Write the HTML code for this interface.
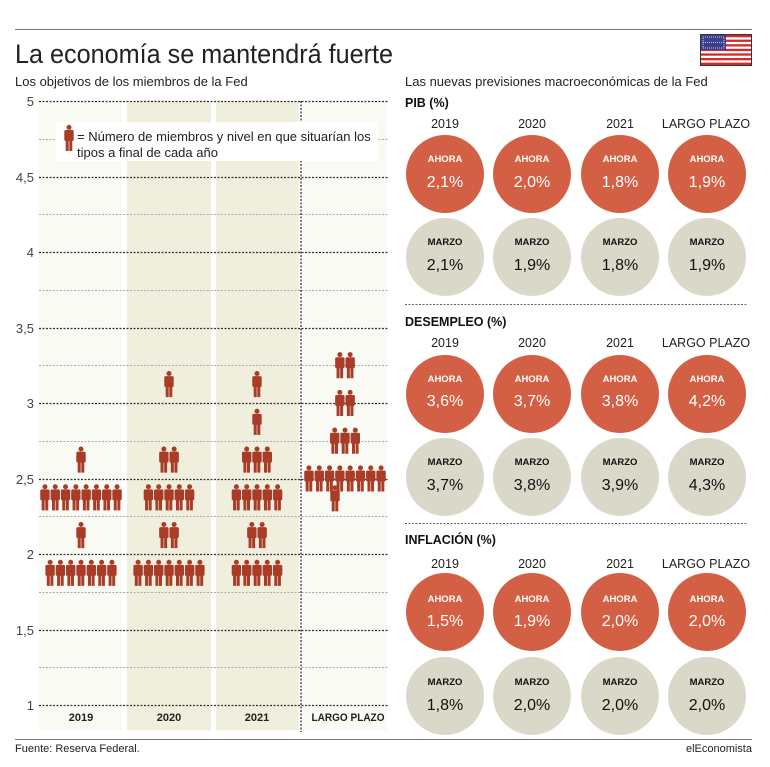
<!DOCTYPE html>
<html><head><meta charset="utf-8">
<style>
html,body{margin:0;padding:0;background:#fff;}
svg{display:block;font-family:"Liberation Sans",sans-serif;}
</style></head><body>
<svg id="s" width="770" height="767" viewBox="0 0 770 767" xmlns="http://www.w3.org/2000/svg">
<defs>
<g id="p" fill="#a83c27">
<circle cx="0" cy="-10.6" r="2.5"/>
<rect x="-4.7" y="-8" width="9.4" height="11" rx="1.6"/>
<rect x="-3.3" y="1" width="3" height="12"/>
<rect x="0.3" y="1" width="3" height="12"/>
</g>
</defs>
<rect width="770" height="767" fill="#fff"/>
<line x1="15" y1="29.5" x2="752" y2="29.5" stroke="#777" stroke-width="1"/>
<text x="15" y="63" font-size="27" fill="#222" textLength="378" lengthAdjust="spacingAndGlyphs">La economía se mantendrá fuerte</text>
<text x="15" y="86" font-size="13" fill="#222">Los objetivos de los miembros de la Fed</text>
<text x="405" y="86" font-size="13" fill="#222">Las nuevas previsiones macroeconómicas de la Fed</text>
<!-- flag -->
<rect x="700" y="34" width="52" height="32" fill="#333"/>
<g>
<rect x="701" y="35" width="50" height="30" fill="#fff"/>
<rect x="701" y="35" width="50" height="2.3" fill="#d42a2a"/>
<rect x="701" y="39.6" width="50" height="2.3" fill="#d42a2a"/>
<rect x="701" y="44.2" width="50" height="2.3" fill="#d42a2a"/>
<rect x="701" y="48.8" width="50" height="2.3" fill="#d42a2a"/>
<rect x="701" y="53.4" width="50" height="2.3" fill="#d42a2a"/>
<rect x="701" y="58" width="50" height="2.3" fill="#d42a2a"/>
<rect x="701" y="62.6" width="50" height="2.4" fill="#d42a2a"/>
<rect x="701" y="35" width="25" height="15" fill="#3b3f8c"/>
<rect x="703" y="37" width="21" height="11" fill="none" stroke="#c8cbe8" stroke-width="1" stroke-dasharray="1,1"/>
<line x1="703" y1="42.5" x2="724" y2="42.5" stroke="#c8cbe8" stroke-dasharray="1,1"/>
</g>
<!-- left chart backgrounds -->
<rect x="39" y="101" width="83" height="629" fill="#fafaf5"/>
<rect x="127" y="101" width="84" height="629" fill="#f0eedd"/>
<rect x="216" y="101" width="83" height="629" fill="#f0eedd"/>
<rect x="303" y="101" width="84" height="629" fill="#fafaf5"/>
<g id="grid"></g>
<line x1="301" y1="101" x2="301" y2="732" stroke="#222" stroke-width="1.2" stroke-dasharray="2,1.5"/>
<g font-size="13" fill="#444" text-anchor="end">
<text x="34" y="106">5</text>
<text x="34" y="182">4,5</text>
<text x="34" y="257">4</text>
<text x="34" y="333">3,5</text>
<text x="34" y="408">3</text>
<text x="34" y="484">2,5</text>
<text x="34" y="559">2</text>
<text x="34" y="635">1,5</text>
<text x="34" y="710">1</text>
</g>
<g font-size="11" font-weight="bold" fill="#222" text-anchor="middle">
<text x="81" y="721">2019</text>
<text x="169" y="721">2020</text>
<text x="257" y="721">2021</text>
<text x="348" y="721" textLength="73" lengthAdjust="spacingAndGlyphs">LARGO PLAZO</text>
</g>
<!-- legend -->
<rect x="56" y="122" width="322" height="39" fill="#fff"/>
<use href="#p" x="69" y="138"/>
<text x="77" y="141" font-size="13" fill="#222">= Número de miembros y nivel en que situarían los</text>
<text x="77" y="157" font-size="13" fill="#222">tipos a final de cada año</text>
<g id="people"></g>
<line x1="15" y1="739.5" x2="752" y2="739.5" stroke="#777" stroke-width="1"/>
<text x="15" y="752" font-size="11" fill="#222">Fuente: Reserva Federal.</text>
<text x="752" y="752" font-size="11" fill="#222" text-anchor="end">elEconomista</text>

<!-- right panels -->
<g font-size="12.5" font-weight="bold" fill="#111">
<text x="405" y="107">PIB (%)</text>
<text x="405" y="326">DESEMPLEO (%)</text>
<text x="405" y="544">INFLACIÓN (%)</text>
</g>
<g stroke="#666" stroke-width="1" stroke-dasharray="2,1.5">
<line x1="405" y1="304.5" x2="748" y2="304.5"/>
<line x1="405" y1="523.5" x2="748" y2="523.5"/>
</g>
<g font-size="12.5" fill="#222" text-anchor="middle">
<text x="445" y="128">2019</text><text x="532" y="128">2020</text><text x="620" y="128">2021</text><text x="706" y="128">LARGO PLAZO</text>
<text x="445" y="347">2019</text><text x="532" y="347">2020</text><text x="620" y="347">2021</text><text x="706" y="347">LARGO PLAZO</text>
<text x="445" y="568">2019</text><text x="532" y="568">2020</text><text x="620" y="568">2021</text><text x="706" y="568">LARGO PLAZO</text>
</g>
<g fill="#d35f44">
<circle cx="445" cy="174" r="39"/><circle cx="532" cy="174" r="39"/><circle cx="620" cy="174" r="39"/><circle cx="707" cy="174" r="39"/>
<circle cx="445" cy="394" r="39"/><circle cx="532" cy="394" r="39"/><circle cx="620" cy="394" r="39"/><circle cx="707" cy="394" r="39"/>
<circle cx="445" cy="612" r="39"/><circle cx="532" cy="612" r="39"/><circle cx="620" cy="612" r="39"/><circle cx="707" cy="612" r="39"/>
</g>
<g fill="#dad8c9">
<circle cx="445" cy="257" r="39"/><circle cx="532" cy="257" r="39"/><circle cx="620" cy="257" r="39"/><circle cx="707" cy="257" r="39"/>
<circle cx="445" cy="477" r="39"/><circle cx="532" cy="477" r="39"/><circle cx="620" cy="477" r="39"/><circle cx="707" cy="477" r="39"/>
<circle cx="445" cy="696" r="39"/><circle cx="532" cy="696" r="39"/><circle cx="620" cy="696" r="39"/><circle cx="707" cy="696" r="39"/>
</g>
<g text-anchor="middle" fill="#fff">
<g font-size="9.5" font-weight="bold">
<text x="445" y="162">AHORA</text><text x="532" y="162">AHORA</text><text x="620" y="162">AHORA</text><text x="707" y="162">AHORA</text>
<text x="445" y="382">AHORA</text><text x="532" y="382">AHORA</text><text x="620" y="382">AHORA</text><text x="707" y="382">AHORA</text>
<text x="445" y="602">AHORA</text><text x="532" y="602">AHORA</text><text x="620" y="602">AHORA</text><text x="707" y="602">AHORA</text>
</g>
<g font-size="16">
<text x="445" y="187">2,1%</text><text x="532" y="187">2,0%</text><text x="620" y="187">1,8%</text><text x="707" y="187">1,9%</text>
<text x="445" y="406">3,6%</text><text x="532" y="406">3,7%</text><text x="620" y="406">3,8%</text><text x="707" y="406">4,2%</text>
<text x="445" y="626">1,5%</text><text x="532" y="626">1,9%</text><text x="620" y="626">2,0%</text><text x="707" y="626">2,0%</text>
</g>
</g>
<g text-anchor="middle" fill="#111">
<g font-size="9.5" font-weight="bold">
<text x="445" y="245">MARZO</text><text x="532" y="245">MARZO</text><text x="620" y="245">MARZO</text><text x="707" y="245">MARZO</text>
<text x="445" y="465">MARZO</text><text x="532" y="465">MARZO</text><text x="620" y="465">MARZO</text><text x="707" y="465">MARZO</text>
<text x="445" y="685">MARZO</text><text x="532" y="685">MARZO</text><text x="620" y="685">MARZO</text><text x="707" y="685">MARZO</text>
</g>
<g font-size="16">
<text x="445" y="270">2,1%</text><text x="532" y="270">1,9%</text><text x="620" y="270">1,8%</text><text x="707" y="270">1,9%</text>
<text x="445" y="490">3,7%</text><text x="532" y="490">3,8%</text><text x="620" y="490">3,9%</text><text x="707" y="490">4,3%</text>
<text x="445" y="710">1,8%</text><text x="532" y="710">2,0%</text><text x="620" y="710">2,0%</text><text x="707" y="710">2,0%</text>
</g>
</g>
</svg>
<script>
var NS="http://www.w3.org/2000/svg";
function Y(v){return 101+(5-v)*151;}
var g=document.getElementById("grid");
for(var i=0;i<=16;i++){var v=5-i*0.25;var l=document.createElementNS(NS,"line");
var y=Math.round(Y(v))+0.5;l.setAttribute("x1",39);l.setAttribute("x2",388);l.setAttribute("y1",y);l.setAttribute("y2",y);
var maj=(i%2==0);l.setAttribute("stroke",maj?"#333":"#aaa");l.setAttribute("stroke-width",maj?1.2:1);l.setAttribute("stroke-dasharray","2,1.5");g.appendChild(l);}
var pp=document.getElementById("people");
var data=[[81,[[2.625,1],[2.375,8],[2.125,1],[1.875,7]]],
[169,[[3.125,1],[2.625,2],[2.375,5],[2.125,2],[1.875,7]]],
[257,[[3.125,1],[2.875,1],[2.625,3],[2.375,5],[2.125,2],[1.875,5]]],
[345,[[3.25,2],[3.0,2],[2.75,3],[2.5,8]]]];
function add(x,y){var u=document.createElementNS(NS,"use");u.setAttribute("href","#p");u.setAttribute("x",x);u.setAttribute("y",y);pp.appendChild(u);}
data.forEach(function(c){c[1].forEach(function(r){var n=r[1],sp=10.3;for(var k=0;k<n;k++){add(c[0]+(k-(n-1)/2)*sp,Y(r[0]));}});});
add(335,Y(2.375)+1);
</script>
</body></html>
